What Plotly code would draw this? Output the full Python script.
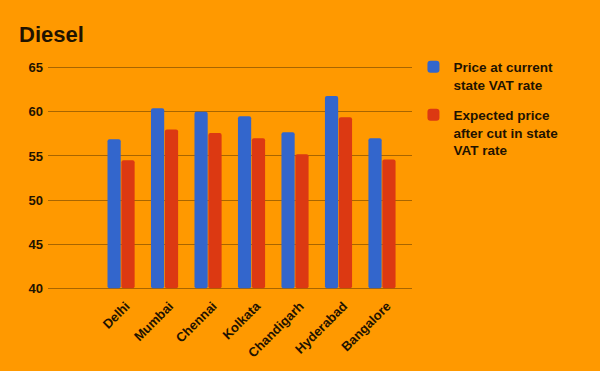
import plotly.graph_objects as go

cities = ["Delhi", "Mumbai", "Chennai", "Kolkata", "Chandigarh", "Hyderabad", "Bangalore"]
current_price = [56.9, 60.4, 60.0, 59.5, 57.7, 61.8, 57.0]
expected_price = [54.5, 58.0, 57.6, 57.0, 55.2, 59.4, 54.6]
series_names = ["Price at current<br>state VAT rate", "Expected price<br>after cut in state<br>VAT rate"]
y_ticks = [40, 45, 50, 55, 60, 65]
y_base = 40

BG = "#ff9900"
TXT = "#1f1300"
FONT = "Liberation Sans"

fig = go.Figure()
fig.add_trace(go.Bar(x=cities, y=[v - y_base for v in current_price], base=y_base, name=series_names[0],
                     marker=dict(color="#3366cc", line=dict(width=0)), legendgroup="a"))
fig.add_trace(go.Bar(x=cities, y=[v - y_base for v in expected_price], base=y_base, name=series_names[1],
                     marker=dict(color="#dc3912", line=dict(width=0)), legendgroup="b"))

fig.update_layout(
    width=600, height=371,
    paper_bgcolor=BG, plot_bgcolor=BG,
    margin=dict(l=48, r=188, t=66, b=81),
    barmode="group", bargap=0.36, bargroupgap=0.05, barcornerradius=2,
    title=dict(text="<b>Diesel</b>", x=19/600, xanchor="left", y=1 - 34/371, yanchor="middle",
               font=dict(family=FONT, size=22, color=TXT)),
    font=dict(family=FONT, size=12, color=TXT),
    showlegend=True,
    legend=dict(x=1.004, y=1.065, xanchor="left", yanchor="top", bgcolor="rgba(0,0,0,0)",
                font=dict(family=FONT, size=13.5, color=TXT, weight="bold"),
                valign="top", tracegroupgap=10, itemwidth=30),
)
fig.update_xaxes(range=[-1.68, 6.69], tickangle=-45, showgrid=False, zeroline=False,
                 showline=False, ticks="", ticklabelstandoff=5, ticklabelshift=5,
                 tickfont=dict(family=FONT, size=13, color=TXT, weight="bold"))
fig.update_yaxes(range=[39.8, 65.2], tickvals=y_ticks, showgrid=True, gridcolor="#a86500", gridwidth=1,
                 zeroline=False, showline=False, ticks="", ticklabelstandoff=4,
                 tickfont=dict(family=FONT, size=13, color=TXT, weight="bold"))

fig.write_html("out.html", config={"displayModeBar": False},
               post_script="document.body.style.margin='0';")
